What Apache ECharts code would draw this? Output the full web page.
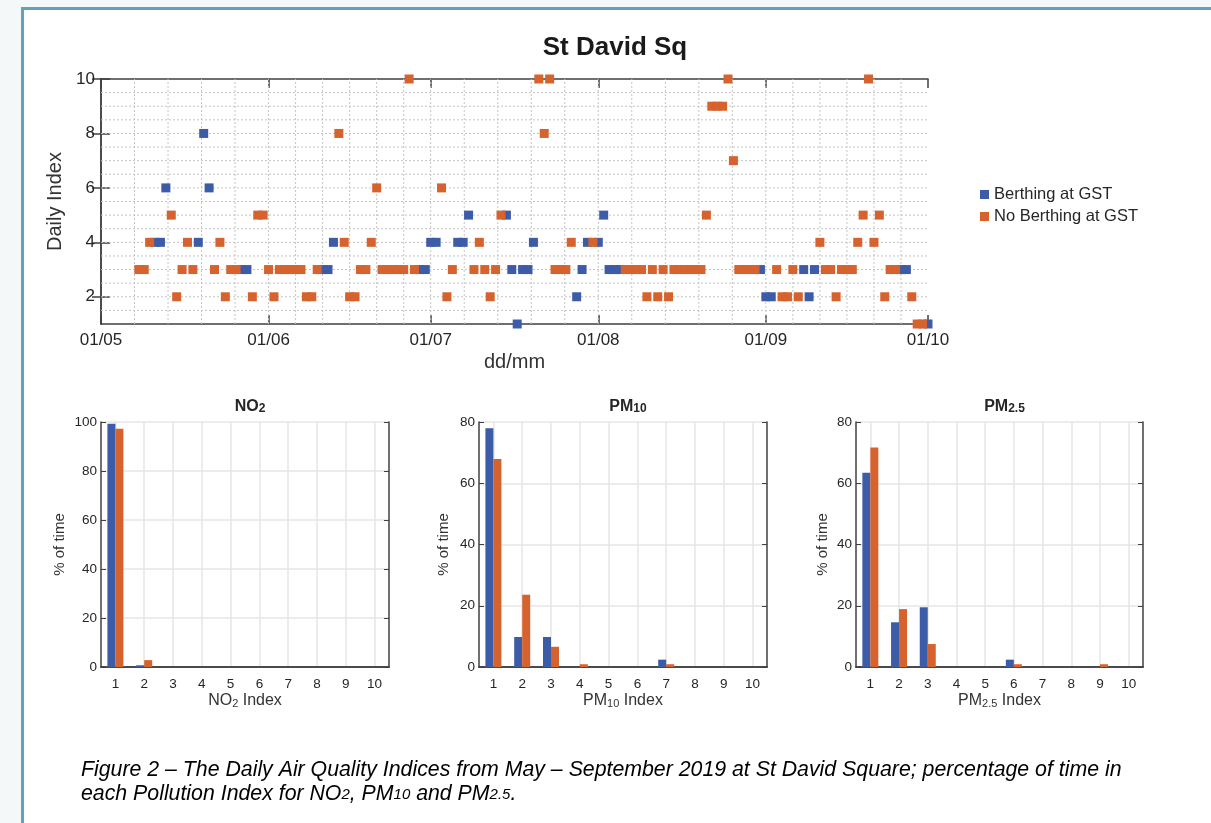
<!DOCTYPE html>
<html>
<head>
<meta charset="utf-8">
<script src="https://cdn.jsdelivr.net/npm/echarts@6.0.0/dist/echarts.min.js"></script>
<style>
html, body { margin: 0; padding: 0; background: #f4f8f9; overflow: hidden; }
#frame { position: absolute; left: 21px; top: 7px; width: 1300px; height: 900px; background: #fff;
  border-left: 3px solid #5fa3bf; border-top: 3px solid #5fa3bf; }
#chart { position: absolute; left: 0; top: 0; width: 1211px; height: 823px; }
</style>
</head>
<body>
<div id="frame"></div>
<div id="chart"></div>
<script>
// daily index, x = days since 01/05/2019
const berthDays = [10, 11, 12, 18, 19, 20, 26, 27, 41, 42, 43, 59, 60, 61, 62, 66, 67, 68,
  75, 76, 77, 78, 79, 80, 88, 89, 90, 92, 93, 94, 95, 96, 122, 123, 124, 130, 131, 132, 148, 149, 153];
const berthIndex = [4, 4, 6, 4, 8, 6, 3, 3, 3, 3, 4, 3, 3, 4, 4, 4, 4, 5,
  5, 3, 1, 3, 3, 4, 2, 3, 4, 4, 5, 3, 3, 3, 3, 2, 2, 3, 2, 3, 3, 3, 1];

const noBerthDays = [7, 8, 9, 13, 14, 15, 16, 17, 21, 22, 23, 24, 25, 28, 29, 30, 31, 32, 33, 34,
  35, 36, 37, 38, 39, 40, 44, 45, 46, 47, 48, 49, 50, 51, 52, 53, 54, 55, 56, 57, 58, 63, 64, 65,
  69, 70, 71, 72, 73, 74, 81, 82, 83, 84, 85, 86, 87, 91, 97, 98, 99, 100, 101, 102, 103, 104, 105,
  106, 107, 108, 109, 110, 111, 112, 113, 114, 115, 116, 117, 118, 119, 120, 121, 125, 126, 127,
  128, 129, 133, 134, 135, 136, 137, 138, 139, 140, 141, 142, 143, 144, 145, 146, 147, 150, 151, 152];
const noBerthIndex = [3, 3, 4, 5, 2, 3, 4, 3, 3, 4, 2, 3, 3, 2, 5, 5, 3, 2, 3, 3,
  3, 3, 3, 2, 2, 3, 8, 4, 2, 2, 3, 3, 4, 6, 3, 3, 3, 3, 3, 10, 3, 6, 2, 3,
  3, 4, 3, 2, 3, 5, 10, 8, 10, 3, 3, 3, 4, 4, 3, 3, 3, 3, 2, 3, 2, 3, 2,
  3, 3, 3, 3, 3, 3, 5, 9, 9, 9, 10, 7, 3, 3, 3, 3, 3, 2, 2,
  3, 2, 4, 3, 3, 2, 3, 3, 3, 4, 5, 10, 4, 5, 2, 3, 3, 2, 1, 1];

const monthTicks = [0, 31, 61, 92, 123, 153];
const monthLabels = ['01/05', '01/06', '01/07', '01/08', '01/09', '01/10'];
const dayGrid = [6.2, 12.4, 18.6, 24.8, 31, 36, 41, 46, 51, 56, 61, 67.2, 73.4, 79.6, 85.8,
  92, 98.2, 104.4, 110.6, 116.8, 123, 128, 133, 138, 143, 148];
const indexTicks = [2, 4, 6, 8, 10];
const indexGrid = [1.5, 2, 2.5, 3, 3.5, 4, 4.5, 5, 5.5, 6, 6.5, 7, 7.5, 8, 8.5, 9, 9.5];

// % of time in each pollution index
const pollutionIndex = ['1', '2', '3', '4', '5', '6', '7', '8', '9', '10'];
const no2Berth = [99.3, 0.7, 0, 0, 0, 0, 0, 0, 0, 0];
const no2NoBerth = [97.2, 2.8, 0, 0, 0, 0, 0, 0, 0, 0];
const pm10Berth = [78.0, 9.8, 9.8, 0, 0, 0, 2.4, 0, 0, 0];
const pm10NoBerth = [67.9, 23.6, 6.6, 0.9, 0, 0, 0.9, 0, 0, 0];
const pm25Berth = [63.4, 14.6, 19.5, 0, 0, 2.4, 0, 0, 0, 0];
const pm25NoBerth = [71.7, 18.9, 7.5, 0, 0, 0.9, 0, 0, 0.9, 0];

const BLUE = '#3d5ca8';
const ORANGE = '#d6622e';
const AXIS = '#404040';
const TXT = '#262626';
const FONT = 'Liberation Sans, Arial, sans-serif';

const chart = echarts.init(document.getElementById('chart'));

function gridLine(dir) {
  return function (params, api) {
    let p1, p2;
    if (dir === 'v') {
      p1 = api.coord([api.value(0), 1]);
      p2 = api.coord([api.value(0), 10]);
    } else {
      p1 = api.coord([0, api.value(1)]);
      p2 = api.coord([153, api.value(1)]);
    }
    return {
      type: 'line',
      shape: { x1: p1[0], y1: p1[1], x2: p2[0], y2: p2[1] },
      style: { stroke: '#c4c4c4', lineWidth: 1, lineDash: [2, 2] }
    };
  };
}

const subRich = (size) => ({
  b: { fontSize: size, fontWeight: 'bold', color: TXT, fontFamily: FONT, padding: [0, 0, 4, 0] },
  s: { fontSize: Math.round(size * 0.72), fontWeight: 'bold', color: TXT, fontFamily: FONT }
});
const nameRich = {
  n: { fontSize: 16, color: '#333', fontFamily: FONT, padding: [0, 0, 5, 0] },
  s: { fontSize: 11, color: '#333', fontFamily: FONT }
};

const barPanels = [
  { left: 101, width: 288, max: 100, title: '{b|NO}{s|2}', name: '{n|NO}{s|2}{n| Index}',
    yGap: 34, a: no2Berth, b: no2NoBerth },
  { left: 479, width: 288, max: 80, title: '{b|PM}{s|10}', name: '{n|PM}{s|10}{n| Index}',
    yGap: 28, a: pm10Berth, b: pm10NoBerth },
  { left: 856, width: 287, max: 80, title: '{b|PM}{s|2.5}', name: '{n|PM}{s|2.5}{n| Index}',
    yGap: 26, a: pm25Berth, b: pm25NoBerth }
];

const grids = [{ left: 101, top: 79, width: 827, height: 245 }];
const xAxes = [
  {
    type: 'value', gridIndex: 0, min: 0, max: 153,
    axisLine: { lineStyle: { color: AXIS, width: 1.5 } },
    axisTick: { customValues: monthTicks, inside: true, length: 9, lineStyle: { color: AXIS, width: 1.5 } },
    axisLabel: { customValues: monthTicks, formatter: v => monthLabels[monthTicks.indexOf(v)],
      fontSize: 17, color: TXT, fontFamily: FONT, margin: 8 },
    splitLine: { show: false },
    name: 'dd/mm', nameLocation: 'middle', nameGap: 28,
    nameTextStyle: { fontSize: 20, color: '#333', fontFamily: FONT }
  },
  {
    type: 'value', gridIndex: 0, min: 0, max: 153, position: 'top',
    axisLine: { lineStyle: { color: AXIS, width: 1.5 } },
    axisTick: { customValues: monthTicks, inside: true, length: 9, lineStyle: { color: AXIS, width: 1.5 } },
    axisLabel: { show: false }, splitLine: { show: false }
  }
];
const yAxes = [
  {
    type: 'value', gridIndex: 0, min: 1, max: 10,
    axisLine: { show: true, lineStyle: { color: AXIS, width: 1.5 } },
    axisTick: { show: true, customValues: indexTicks, inside: true, length: 9, lineStyle: { color: AXIS, width: 1.5 } },
    axisLabel: { customValues: indexTicks, fontSize: 17, color: TXT, fontFamily: FONT, margin: 6 },
    splitLine: { show: false },
    name: 'Daily Index', nameLocation: 'middle', nameGap: 31,
    nameTextStyle: { fontSize: 20, color: '#333', fontFamily: FONT }
  },
  {
    type: 'value', gridIndex: 0, min: 1, max: 10, position: 'right',
    axisLine: { show: true, lineStyle: { color: AXIS, width: 1.5 } },
    axisTick: { show: true, customValues: indexTicks, inside: true, length: 9, lineStyle: { color: AXIS, width: 1.5 } },
    axisLabel: { show: false }, splitLine: { show: false }
  }
];
const titles = [{
  text: 'St David Sq', left: 610, top: 30, textAlign: 'center',
  textStyle: { fontSize: 26, fontWeight: 'bold', color: '#1a1a1a', fontFamily: FONT }
}];
const series = [
  { type: 'custom', xAxisIndex: 0, yAxisIndex: 0, silent: true, z: 1,
    data: dayGrid.map(d => [d, 1]), renderItem: gridLine('v') },
  { type: 'custom', xAxisIndex: 0, yAxisIndex: 0, silent: true, z: 1,
    data: indexGrid.map(v => [0, v]), renderItem: gridLine('h') },
  { name: 'Berthing at GST', type: 'scatter', xAxisIndex: 0, yAxisIndex: 0, clip: false, z: 3,
    symbol: 'rect', symbolSize: 9, itemStyle: { color: BLUE, opacity: 1 },
    data: berthDays.map((d, i) => [d, berthIndex[i]]) },
  { name: 'No Berthing at GST', type: 'scatter', xAxisIndex: 0, yAxisIndex: 0, clip: false, z: 4,
    symbol: 'rect', symbolSize: 9, itemStyle: { color: ORANGE, opacity: 1 },
    data: noBerthDays.map((d, i) => [d, noBerthIndex[i]]) }
];

barPanels.forEach((p, k) => {
  const g = k + 1;
  grids.push({ left: p.left, top: 422, width: p.width, height: 245 });
  xAxes.push({
    type: 'category', gridIndex: g, data: pollutionIndex, boundaryGap: true,
    axisLine: { lineStyle: { color: AXIS, width: 1.5 } },
    axisTick: { alignWithLabel: true, inside: true, length: 5, lineStyle: { color: AXIS } },
    axisLabel: { fontSize: 13.5, color: TXT, fontFamily: FONT, margin: 10 },
    splitLine: { show: true, alignWithLabel: true, lineStyle: { color: '#e6e6e6', width: 1.5 } },
    name: p.name, nameLocation: 'middle', nameGap: 26, nameTextStyle: { rich: nameRich }
  });
  xAxes.push({
    type: 'category', gridIndex: g, data: pollutionIndex, boundaryGap: true, position: 'top',
    axisLine: { lineStyle: { color: AXIS, width: 1.5 } },
    axisTick: { alignWithLabel: true, inside: true, length: 5, lineStyle: { color: AXIS } },
    axisLabel: { show: false }, splitLine: { show: false }
  });
  yAxes.push({
    type: 'value', gridIndex: g, min: 0, max: p.max, interval: 20,
    axisLine: { show: true, lineStyle: { color: AXIS, width: 1.5 } },
    axisTick: { show: true, inside: true, length: 5, lineStyle: { color: AXIS } },
    axisLabel: { fontSize: 13.5, color: TXT, fontFamily: FONT, margin: 4 },
    splitLine: { show: true, lineStyle: { color: '#e6e6e6', width: 1.5 } },
    name: '% of time', nameLocation: 'middle', nameGap: p.yGap,
    nameTextStyle: { fontSize: 15, color: '#333', fontFamily: FONT }
  });
  yAxes.push({
    type: 'value', gridIndex: g, min: 0, max: p.max, interval: 20, position: 'right',
    axisLine: { show: true, lineStyle: { color: AXIS, width: 1.5 } },
    axisTick: { show: true, inside: true, length: 5, lineStyle: { color: AXIS } },
    axisLabel: { show: false }, splitLine: { show: false }
  });
  titles.push({
    text: p.title, left: p.left + p.width / 2, top: 394, textAlign: 'center',
    textStyle: { rich: subRich(16) }
  });
  const xi = 2 + k * 2, yi = 2 + k * 2;
  series.push(
    { name: 'Berthing at GST', type: 'bar', xAxisIndex: xi, yAxisIndex: yi, z: 3,
      barWidth: 8, barGap: '0%', itemStyle: { color: BLUE }, data: p.a },
    { name: 'No Berthing at GST', type: 'bar', xAxisIndex: xi, yAxisIndex: yi, z: 3,
      barWidth: 8, barGap: '0%', itemStyle: { color: ORANGE }, data: p.b }
  );
});

const capRich = {
  i: { fontSize: 21.3, fontStyle: 'italic', color: '#222', fontFamily: FONT },
  s: { fontSize: 15, fontStyle: 'italic', color: '#222', fontFamily: FONT }
};

chart.setOption({
  animation: false,
  backgroundColor: 'transparent',
  title: titles,
  legend: {
    data: ['Berthing at GST', 'No Berthing at GST'],
    orient: 'vertical', left: 975, top: 181, icon: 'rect', itemWidth: 9, itemHeight: 9, itemGap: 5,
    textStyle: { fontSize: 16.5, color: TXT, fontFamily: FONT }
  },
  grid: grids,
  xAxis: xAxes,
  yAxis: yAxes,
  series: series,
  graphic: [
    { type: 'text', left: 81, top: 760,
      style: { text: '{i|Figure 2 – The Daily Air Quality Indices from May – September 2019 at St David Square; percentage of time in}', rich: capRich } },
    { type: 'text', left: 81, top: 784,
      style: { text: '{i|each Pollution Index for NO}{s|2}{i|, PM}{s|10}{i| and PM}{s|2.5}{i|.}', rich: capRich } }
  ]
});
</script>
</body>
</html>
